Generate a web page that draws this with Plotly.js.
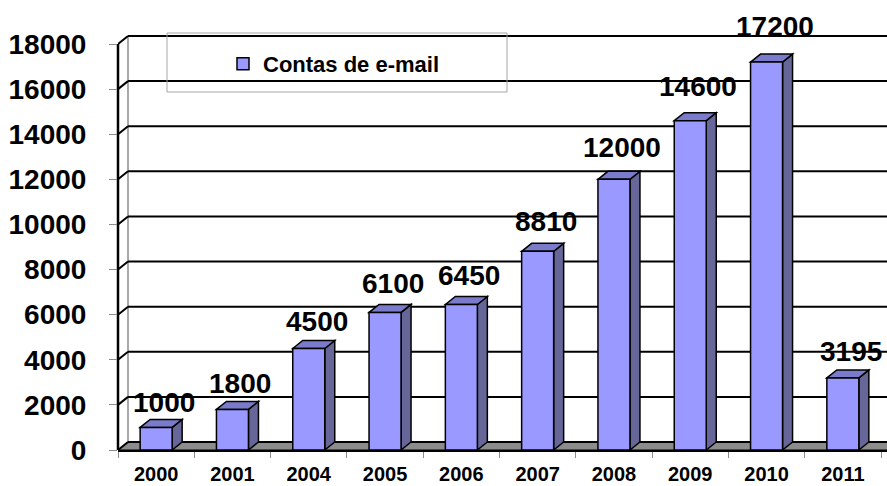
<!DOCTYPE html>
<html>
<head>
<meta charset="utf-8">
<script src="https://cdn.plot.ly/plotly-3.0.1.min.js"></script>
<style>html,body{margin:0;padding:0;background:#fff;}#chart{width:887px;height:486px;}</style>
</head>
<body>
<div id="chart"></div>
<script>
// ---- data ----
const categories = ['2000', '2001', '2004', '2005', '2006', '2007', '2008', '2009', '2010', '2011'];
const values = [1000, 1800, 4500, 6100, 6450, 8810, 12000, 14600, 17200, 3195];
const yTicks = [0, 2000, 4000, 6000, 8000, 10000, 12000, 14000, 16000, 18000];
const seriesName = 'Contas de e-mail';

// ---- geometry (pixels) ----
const W = 887, H = 486, L = 118, R = 0, T = 33, B = 36;
const plotW = W - L - R, plotH = H - T - B;
const catPx = 76.3;                 // pixels per category
const yPxPer = 406 / 18000;         // pixels per unit on y
const xMin = -0.5, xMax = xMin + plotW / catPx;
const yMax = plotH / yPxPer;
const dx = 10 / catPx, dy = 8 / yPxPer;   // 3-D depth offset
const barW = 32 / catPx;
const FONT = 'Liberation Sans, Arial, Helvetica, sans-serif';

function poly(pts) {
  return 'M' + pts.map(p => p[0] + ',' + p[1]).join(' L') + ' Z';
}

const shapes = [];
// floor
shapes.push({type: 'path', xref: 'x', yref: 'y', layer: 'below',
  path: poly([[xMin, 0], [xMin + dx, dy], [xMax + dx + 1, dy], [xMax + 1, 0]]),
  fillcolor: '#8C8C8C', line: {color: '#000', width: 1}});
// back-wall left edge
shapes.push({type: 'line', xref: 'x', yref: 'y', layer: 'below',
  x0: xMin + dx, x1: xMin + dx, y0: dy, y1: yTicks[yTicks.length - 1] + dy,
  line: {color: '#8C8C8C', width: 1.5}});
// gridlines on side wall and back wall
yTicks.forEach(v => {
  shapes.push({type: 'line', xref: 'x', yref: 'y', layer: 'below',
    x0: xMin, y0: v, x1: xMin + dx, y1: v + dy, line: {color: '#000', width: 2}});
  shapes.push({type: 'line', xref: 'x', yref: 'y', layer: 'below',
    x0: xMin + dx, y0: v + dy, x1: xMax + 1, y1: v + dy, line: {color: '#000', width: 2}});
});
// front y axis line
shapes.push({type: 'line', xref: 'paper', yref: 'y', layer: 'below',
  x0: 0, x1: 0, y0: 0, y1: yTicks[yTicks.length - 1], line: {color: '#000', width: 2.5}});
// 3-D side and top faces of the bars
values.forEach((v, i) => {
  const xl = i - barW / 2, xr = i + barW / 2;
  shapes.push({type: 'path', xref: 'x', yref: 'y', layer: 'below',
    path: poly([[xr, 0], [xr + dx, dy], [xr + dx, v + dy], [xr, v]]),
    fillcolor: '#666699', line: {color: '#000', width: 1.5}});
  shapes.push({type: 'path', xref: 'x', yref: 'y', layer: 'below',
    path: poly([[xl, v], [xl + dx, v + dy], [xr + dx, v + dy], [xr, v]]),
    fillcolor: '#7B7BCC', line: {color: '#000', width: 1.5}});
});
// legend frame
shapes.push({type: 'rect', xref: 'paper', yref: 'paper', layer: 'above',
  x0: (167 - L) / plotW, x1: (507 - L) / plotW,
  y0: (H - B - 92) / plotH, y1: (H - B - 33) / plotH,
  line: {color: '#A6A6A6', width: 1}, fillcolor: 'rgba(0,0,0,0)'});

const xIdx = categories.map((c, i) => i);
const bounds = categories.map((c, i) => i - 0.5).concat([categories.length - 0.5]);

const trace = {
  type: 'bar', name: seriesName, x: xIdx, y: values, width: barW,
  marker: {color: '#9999FF', line: {color: '#000', width: 1.5}},
  hoverinfo: 'skip'
};

const annotations = values.map((v, i) => ({
  x: i, y: v, xref: 'x', yref: 'y', text: String(v), showarrow: false,
  xanchor: 'center', yanchor: 'bottom', xshift: 8, yshift: 7 + v * 0.00065,
  font: {family: FONT, size: 28, color: '#000', weight: 'bold'}
}));

const layout = {
  width: W, height: H,
  margin: {l: L, r: R, t: T, b: B, pad: 0},
  paper_bgcolor: '#fff', plot_bgcolor: '#fff',
  showlegend: true,
  legend: {x: (223 - L) / plotW, xanchor: 'left', y: (H - B - 64) / plotH, yanchor: 'middle',
    bgcolor: 'rgba(0,0,0,0)', borderwidth: 0,
    font: {family: FONT, size: 22, color: '#000', weight: 'bold'}},
  xaxis: {type: 'linear', range: [xMin, xMax], tickmode: 'array', tickvals: xIdx, ticktext: categories,
    ticks: '', showgrid: false, zeroline: false, showline: true, linecolor: '#000', linewidth: 2,
    ticklabelstandoff: 5,
    minor: {tickmode: 'array', tickvals: bounds, ticks: 'outside', ticklen: 6, tickwidth: 1, tickcolor: '#8C8C8C', showgrid: false},
    tickfont: {family: FONT, size: 20, color: '#000', weight: 'bold'}, fixedrange: true},
  yaxis: {range: [0, yMax], tickmode: 'array', tickvals: yTicks, ticktext: yTicks.map(String),
    ticks: 'outside', ticklen: 8, tickwidth: 1, tickcolor: '#8C8C8C',
    showgrid: false, zeroline: false, showline: false, ticklabelstandoff: 17,
    tickfont: {family: FONT, size: 28, color: '#000', weight: 'bold'}, fixedrange: true},
  shapes: shapes,
  annotations: annotations
};

Plotly.newPlot('chart', [trace], layout, {staticPlot: true, displayModeBar: false});
</script>
</body>
</html>
